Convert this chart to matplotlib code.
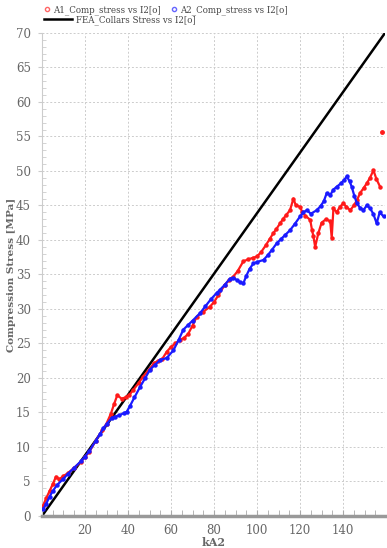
import matplotlib.pyplot as plt
from matplotlib.ticker import MultipleLocator, FixedLocator
from matplotlib.lines import Line2D

# kA2 vs compression stress
red_x = [0.5, 2, 3.5, 5, 6.5, 8, 10, 12, 15, 18, 20, 22, 25, 28, 30, 32, 33.5, 35, 37, 39,
         40.5, 42.5, 45, 47, 50, 52, 54, 56, 58, 60, 62, 64, 66, 68, 70, 72, 75, 78, 80, 82,
         85, 87, 89, 91, 93.6, 96, 98, 100, 102, 104, 106, 107.6, 109, 110.7, 112, 113.5,
         115.3, 116.9, 118, 120, 121, 122.5, 124.7, 125.5, 126.2, 127, 128.5, 130, 132, 134,
         134.7, 135.5, 137, 138.5, 140.1, 141.5, 143.3, 145, 146.5, 147.9, 149.5, 151, 152.5,
         154.1, 155.5, 157.2]
red_y = [1.5, 2.6, 3.6, 4.6, 5.7, 5.3, 5.8, 6.2, 7.0, 7.8, 8.6, 9.3, 10.9, 12.4, 13.4, 14.8,
         16.2, 17.5, 17.0, 17.2, 17.5, 18.3, 19.3, 20.2, 21.3, 22.1, 22.5, 22.8, 23.8, 24.5,
         25.0, 25.5, 25.8, 26.4, 27.6, 28.9, 29.6, 30.3, 31.0, 32.0, 33.5, 34.2, 34.7, 35.5,
         36.9, 37.2, 37.4, 37.6, 38.3, 39.2, 40.2, 41.0, 41.6, 42.4, 43.0, 43.6, 44.3, 46.0,
         45.0, 44.8, 44.0, 43.5, 42.9, 41.5, 40.5, 39.0, 41.0, 42.5, 43.0, 42.7, 40.3, 44.6,
         44.0, 44.8, 45.3, 44.8, 44.3, 45.0, 45.8, 46.8, 47.5, 48.2, 49.0, 50.1, 48.8, 47.7]
red_jump_x = [158.2]
red_jump_y = [55.7]

blue_x = [0.5, 2, 3.5, 5, 7, 10, 12, 15, 18, 20, 22, 25, 27, 28.5, 30, 32.4, 34, 36, 38, 39.4,
          41, 43, 45.6, 48, 50.2, 52.5, 54.9, 58, 61.1, 63.5, 65.7, 68, 70, 73.5, 76, 78.5,
          81.2, 82.8, 85, 87.4, 89, 90.5, 92, 93.6, 95, 96.5, 98.3, 100, 103, 105, 107, 109.1,
          111, 113, 115.3, 117.5, 120, 121.5, 123.1, 125, 127.7, 129.5, 131, 132.4, 134, 135.5,
          137, 139, 140.5, 141.7, 143, 144, 145.2, 146.4, 148, 149.4, 151, 152.5, 154, 155.6,
          157, 158.8]
blue_y = [1.0, 1.8, 2.8, 3.6, 4.5, 5.4, 6.1, 7.0, 7.9, 8.6, 9.4, 10.9, 11.9, 12.7, 13.3, 14.2,
          14.4, 14.6, 14.9, 15.1, 16.0, 17.2, 18.7, 20.0, 21.2, 21.9, 22.6, 22.9, 24.0, 25.5,
          27.0, 27.7, 28.3, 29.4, 30.4, 31.4, 32.3, 32.8, 33.5, 34.4, 34.5, 34.2, 33.9, 33.7,
          34.8, 35.8, 36.6, 36.8, 37.1, 37.8, 38.6, 39.5, 40.1, 40.7, 41.4, 42.3, 43.4, 44.0,
          44.3, 43.8, 44.3, 44.9, 45.6, 46.8, 46.5, 47.3, 47.7, 48.2, 48.7, 49.2, 48.5, 47.7,
          46.4, 45.3, 44.6, 44.3, 45.0, 44.6, 43.8, 42.4, 44.0, 43.4]

fea_x = [0, 159.5]
fea_y = [0, 70]

y_ticks = list(range(0, 75, 5))
x_ticks = [20, 40, 60, 80, 100, 120, 140]

plt.rcParams['font.family'] = ['DejaVu Serif']
grey = '#666666'

fig = plt.figure(figsize=(3.87, 5.48), dpi=100)
ax = fig.add_axes([0.1085, 0.0584, 0.8865, 0.8816])

ax.plot(fea_x, fea_y, color='black', lw=1.8, zorder=2)
ax.plot(red_x, red_y, color='#ff1a1a', lw=1.6, marker='o', ms=2.2, zorder=3)
ax.plot(red_jump_x, red_jump_y, 'o', color='#ff1a1a', ms=2.5, zorder=3)
ax.plot(blue_x, blue_y, color='#1a1aff', lw=1.6, marker='o', ms=2.2, zorder=4)

ax.set_xlim(0, 159.5)
ax.set_ylim(0, 70)
ax.xaxis.set_major_locator(FixedLocator(x_ticks))
ax.yaxis.set_major_locator(FixedLocator(y_ticks))
ax.xaxis.set_minor_locator(MultipleLocator(5))
ax.yaxis.set_minor_locator(MultipleLocator(1))

ax.grid(True, which='major', color='#cccccc', linestyle=(0, (2, 2)), lw=0.7)
ax.tick_params(axis='both', which='major', labelsize=8.5, labelcolor=grey, color='#cccccc', length=3)
ax.tick_params(axis='y', which='major', pad=5)
ax.tick_params(axis='y', which='minor', direction='in', length=3, color='#cccccc')
ax.tick_params(axis='x', which='minor', direction='in', length=4, color='#aaaaaa')
ax.tick_params(axis='x', which='major', direction='in', length=4, color='#aaaaaa', pad=6)

for s in ['top', 'right']:
    ax.spines[s].set_visible(False)
ax.spines['left'].set_color('#cccccc')
ax.spines['left'].set_linewidth(0.8)
ax.spines['bottom'].set_color('#999999')
ax.spines['bottom'].set_linewidth(2.5)

ax.set_xlabel('kA2', fontsize=8, color=grey, fontweight='bold', labelpad=0)
ax.set_ylabel('Compression Stress [MPa]', fontsize=7.5, color=grey, fontweight='bold', labelpad=0)

# legend: two circles on the first row, the FEA line alone on the second
row1 = [
    Line2D([], [], ls='none', marker='o', ms=3, mfc='none', mec='#ff6666', mew=1),
    Line2D([], [], ls='none', marker='o', ms=3, mfc='none', mec='#6666ff', mew=1),
]
fig.legend(row1, ['A1_Comp_stress vs I2[o]', 'A2_Comp_stress vs I2[o]'], ncol=2,
           loc='center left', bbox_to_anchor=(0.1, 0.982), borderpad=0,
           frameon=False, fontsize=6.2, labelcolor='#444444', handlelength=0.9,
           handletextpad=0.3, columnspacing=1.0)
row2 = [Line2D([], [], color='black', lw=1.8)]
fig.legend(row2, ['FEA_Collars Stress vs I2[o]'], loc='center left',
           bbox_to_anchor=(0.103, 0.9635), borderpad=0, frameon=False, fontsize=6.2,
           labelcolor='#444444', handlelength=3.2, handletextpad=0.5)

fig.savefig('out.png', dpi=100)
